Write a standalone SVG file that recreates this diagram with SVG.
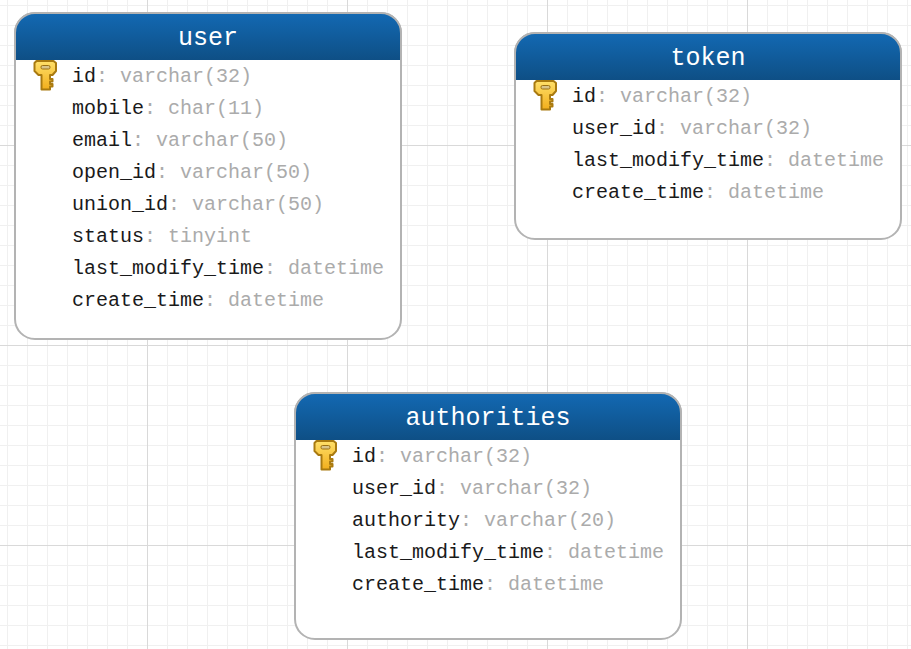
<svg xmlns="http://www.w3.org/2000/svg" width="911" height="649" viewBox="0 0 911 649">
<style>
.minor{stroke:#f0f0f0;stroke-width:1;fill:none}
.major{stroke:#d9d9d9;stroke-width:1;fill:none}
.box{fill:#fff;stroke:#b3b3b3;stroke-width:2}
.edge{fill:none;stroke:#b3b3b3;stroke-width:2}
.title{font:25px "Liberation Mono",monospace;fill:#fff;text-anchor:middle}
.row{font:20px "Liberation Mono",monospace;fill:#1a1a1a}
.type{fill:#ababab}
</style>
<defs>
<linearGradient id="hd" x1="0" y1="0" x2="0" y2="1"><stop offset="0" stop-color="#1369b3"/><stop offset="1" stop-color="#0e4f85"/></linearGradient>
<linearGradient id="kf" x1="0" y1="0" x2="0" y2="1"><stop offset="0" stop-color="#ffe06a"/><stop offset="1" stop-color="#f2ae1c"/></linearGradient>
<g id="key">
<path d="M3 1H20L22.500 3V11L19 15H16.500V19H19V21.500H16.500V24H19V26.500H16.500V29.500H8V15H5L1 11V3Z" fill="url(#kf)" stroke="#a97a10" stroke-width="2" stroke-linejoin="round"/>
<rect x="7.500" y="5.500" width="9" height="3.500" rx="1.500" fill="#d9c489" stroke="#9a7012"/>
</g>
<pattern id="gm" width="20" height="20" patternUnits="userSpaceOnUse" x="7" y="5"><path d="M.5 0V20M0 .5H20" class="minor"/></pattern>
</defs>
<rect width="911" height="649" fill="#fff"/>
<g id="grid">
<rect width="911" height="649" fill="url(#gm)"/>
<path class="major" d="M147.500 0V649M347.500 0V649M547.500 0V649M747.500 0V649M0 145.500H911M0 345.500H911M0 545.500H911"/>
</g>
<g id="connectors"/>
<g id="user" transform="translate(15 14)">
<rect class="box" x="0" y="-1" width="386" height="326" rx="20"/>
<path d="M0 46V19A20 20 0 0 1 20 -1H366A20 20 0 0 1 386 19V46Z" fill="url(#hd)"/>
<path class="edge" d="M0 46V19A20 20 0 0 1 20 -1H366A20 20 0 0 1 386 19V46"/>
<text class="title" x="193" y="31">user</text>
<use href="#key" x="18.500" y="46"/>
<text class="row" x="57" y="68">id<tspan class="type">: varchar(32)</tspan></text>
<text class="row" x="57" y="100">mobile<tspan class="type">: char(11)</tspan></text>
<text class="row" x="57" y="132">email<tspan class="type">: varchar(50)</tspan></text>
<text class="row" x="57" y="164">open_id<tspan class="type">: varchar(50)</tspan></text>
<text class="row" x="57" y="196">union_id<tspan class="type">: varchar(50)</tspan></text>
<text class="row" x="57" y="228">status<tspan class="type">: tinyint</tspan></text>
<text class="row" x="57" y="260">last_modify_time<tspan class="type">: datetime</tspan></text>
<text class="row" x="57" y="292">create_time<tspan class="type">: datetime</tspan></text>
</g>
<g id="token" transform="translate(515 34)">
<rect class="box" x="0" y="-1" width="386" height="206" rx="20"/>
<path d="M0 46V19A20 20 0 0 1 20 -1H366A20 20 0 0 1 386 19V46Z" fill="url(#hd)"/>
<path class="edge" d="M0 46V19A20 20 0 0 1 20 -1H366A20 20 0 0 1 386 19V46"/>
<text class="title" x="193" y="31">token</text>
<use href="#key" x="18.500" y="46"/>
<text class="row" x="57" y="68">id<tspan class="type">: varchar(32)</tspan></text>
<text class="row" x="57" y="100">user_id<tspan class="type">: varchar(32)</tspan></text>
<text class="row" x="57" y="132">last_modify_time<tspan class="type">: datetime</tspan></text>
<text class="row" x="57" y="164">create_time<tspan class="type">: datetime</tspan></text>
</g>
<g id="authorities" transform="translate(295 394)">
<rect class="box" x="0" y="-1" width="386" height="246" rx="20"/>
<path d="M0 46V19A20 20 0 0 1 20 -1H366A20 20 0 0 1 386 19V46Z" fill="url(#hd)"/>
<path class="edge" d="M0 46V19A20 20 0 0 1 20 -1H366A20 20 0 0 1 386 19V46"/>
<text class="title" x="193" y="31">authorities</text>
<use href="#key" x="18.500" y="46"/>
<text class="row" x="57" y="68">id<tspan class="type">: varchar(32)</tspan></text>
<text class="row" x="57" y="100">user_id<tspan class="type">: varchar(32)</tspan></text>
<text class="row" x="57" y="132">authority<tspan class="type">: varchar(20)</tspan></text>
<text class="row" x="57" y="164">last_modify_time<tspan class="type">: datetime</tspan></text>
<text class="row" x="57" y="196">create_time<tspan class="type">: datetime</tspan></text>
</g>
</svg>
